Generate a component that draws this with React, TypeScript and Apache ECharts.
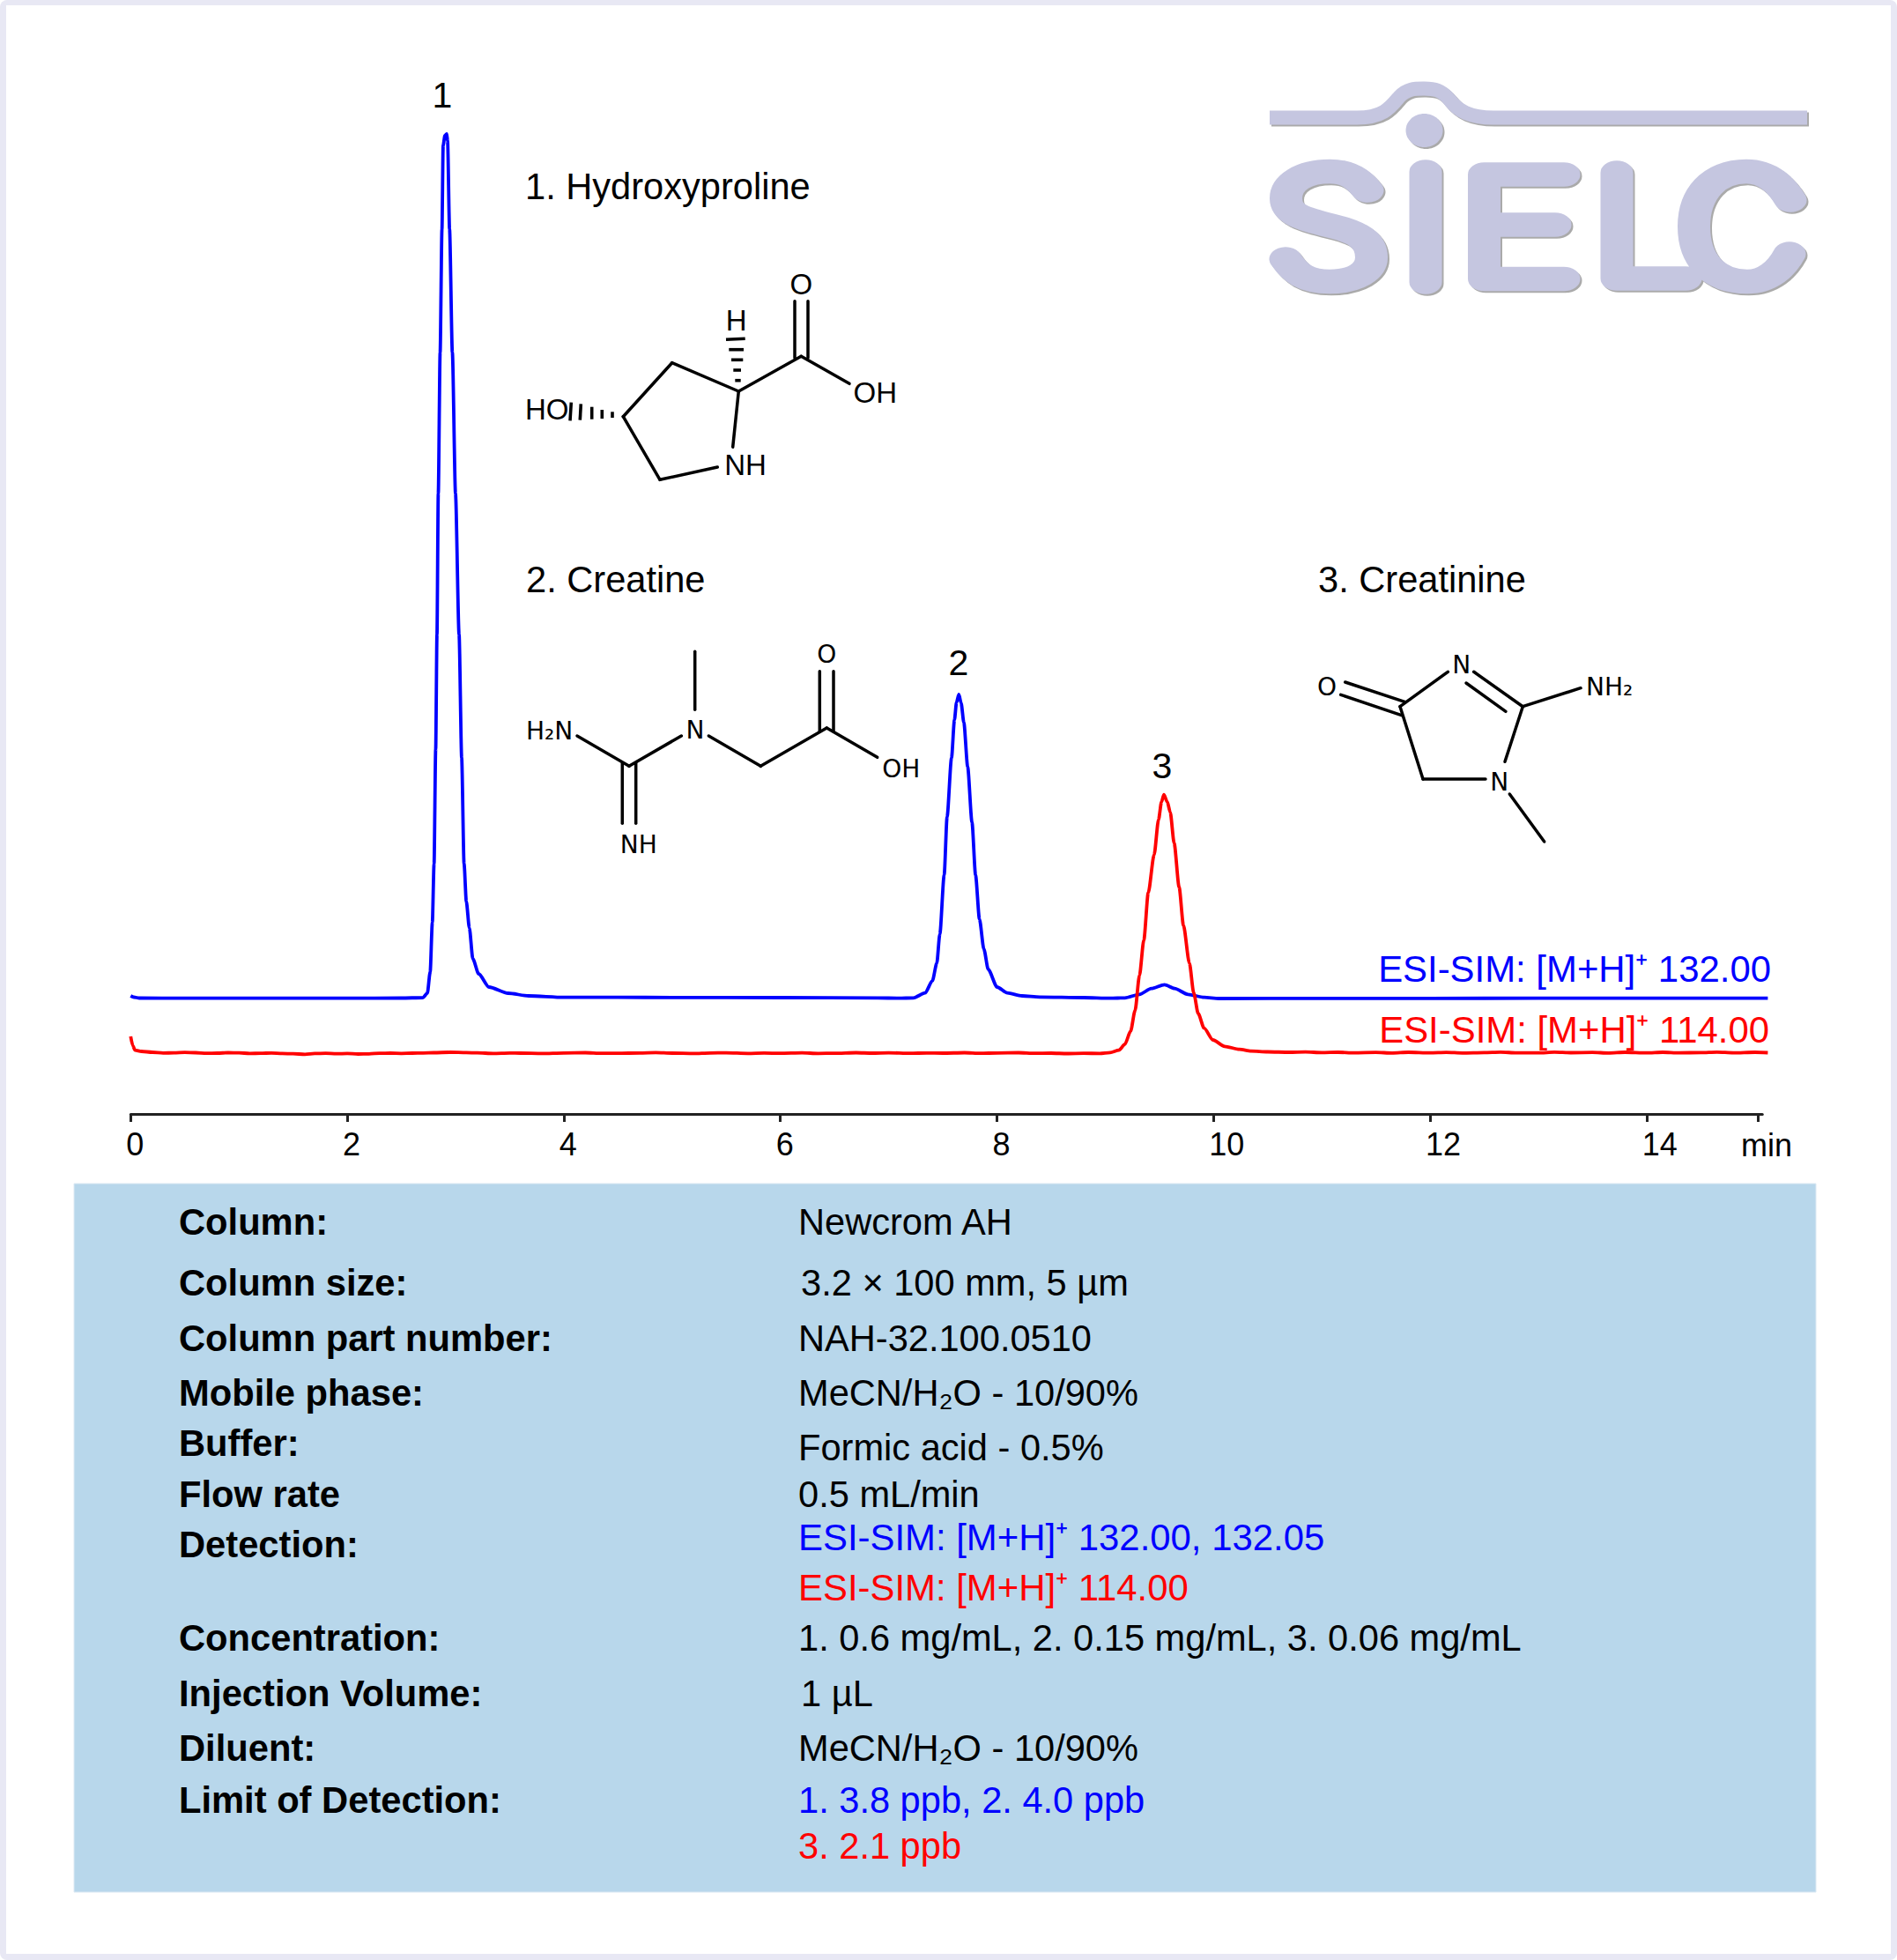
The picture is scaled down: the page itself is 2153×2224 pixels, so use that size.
import React, { useEffect, useRef } from "react";
import * as echarts from "echarts";

// ---------- data ----------
const xTickLabels = [0, 2, 4, 6, 8, 10, 12, 14];
const xTickMarks = [0, 2, 4, 6, 8, 10, 12, 14, 15.03];

const blueTime = [
  0, 0.03, 0.08, 0.5, 1, 1.5, 2, 2.5, 2.699, 2.74, 2.766, 2.786, 2.802, 2.817, 2.829, 2.841, 2.858, 2.875, 2.886,
  2.902, 2.919, 2.927, 2.945, 2.971, 3.0, 3.033, 3.057, 3.079, 3.1, 3.128, 3.16, 3.214, 3.309, 3.486, 3.675, 4.0,
  4.5, 5, 6, 6.9, 7.093, 7.229, 7.337, 7.404, 7.445, 7.473, 7.513, 7.54, 7.581, 7.608, 7.627, 7.649, 7.67, 7.695,
  7.73, 7.77, 7.803, 7.839, 7.88, 7.92, 8.002, 8.096, 8.232, 8.395, 8.8, 9.046, 9.182, 9.317, 9.426, 9.548, 9.642,
  9.764, 9.914, 10.049, 11, 12, 13, 14, 15.12,
];
const blueSignal = [
  134, 132.5, 131.5, 131.3, 131.3, 131.3, 131.4, 131.5, 132, 137, 161, 217, 284, 414, 544, 704, 864, 1004, 1099,
  1110, 1112, 1104, 1004, 864, 704, 544, 404, 284, 241, 211, 176, 159, 144, 137, 134, 132.3,
  132.3, 132.2, 132, 131.7, 131.3, 131.7, 137.3, 151, 171, 204, 271, 337, 404, 447, 467, 476, 466, 444,
  394, 331, 271, 221, 187, 164, 144, 137.3, 134, 132.7, 132, 131.3, 131.7, 135.7, 142.3, 146.7, 142.3,
  135.7, 132.3, 131, 131.2, 131.2, 131.3, 131.3, 131.3,
];

const redTime = [
  0, 0.02, 0.04, 0.1, 0.2, 0.3, 0.4, 0.5, 0.6, 0.7, 0.8, 0.9, 1.0, 1.1, 1.2, 1.3, 1.4, 1.5, 1.61, 1.7, 1.8, 1.9, 2.0,
  2.1, 2.2, 2.3, 2.4, 2.5, 2.6, 2.7, 2.8, 2.95, 3.1, 3.2, 3.35, 3.5, 3.6, 3.8, 4, 4.2, 4.35, 4.5, 4.7, 4.85,
  5, 5.2, 5.35, 5.5, 5.7, 5.85, 6, 6.2, 6.35, 6.5, 6.7, 6.85, 7, 7.2, 7.35, 7.5, 7.7, 7.85, 8, 8.2, 8.35, 8.5, 8.65,
  8.8, 8.95, 9.046, 9.127, 9.182, 9.235, 9.276, 9.317, 9.357, 9.398, 9.452, 9.493,
  9.52, 9.542, 9.574, 9.601, 9.637, 9.683, 9.723, 9.778, 9.818, 9.859, 9.914, 9.995, 10.103, 10.239, 10.348, 10.5, 10.7,
  10.85, 11, 11.15, 11.3, 11.5, 11.65, 11.8, 12, 12.15, 12.3, 12.5, 12.65, 12.8, 13, 13.15, 13.3, 13.5, 13.65, 13.8,
  14, 14.15, 14.3, 14.5, 14.65, 14.8, 15, 15.12,
];
const redSignal = [
  88, 77.3, 72.3, 71, 70, 69.2, 69.3, 69.8, 69.5, 68.9, 69, 69.5, 69.3, 68.7, 68.8, 69.2, 68.6, 68.3, 67.7, 68.6, 68.8, 68.3, 68.6,
  68, 68.2, 68.9, 69, 68.7, 69, 69.2, 69.5, 70, 69.6, 69.3, 68.7, 69.2, 69, 68.6, 69.2, 69.5, 68.8, 68.8, 69.2, 69.6,
  69, 68.6, 69.2, 69.4, 68.7, 69.1, 68.8, 69.3, 68.7, 68.9, 69.5, 69, 69.4, 68.8, 69.2, 69, 69.5, 68.8, 69.2, 69.5, 68.9, 69, 68.5,
  68.8, 68.7, 69.7, 72.3, 79, 94, 117.3, 157.3, 197.3, 251, 294, 334,
  354, 362.3, 354, 342.3, 307.3, 257.3, 214, 171, 137.3, 114, 97.3, 84, 76.7, 73.3, 71.3, 70.5, 70,
  70.4, 69.6, 70, 69.4, 69.8, 69.2, 70, 69.4, 69.9, 69.2, 69.7, 70.2, 69.3, 69.3, 70.1, 69.5, 69.8, 69.2, 70,
  69.4, 70, 69.4, 69.6, 70.2, 69.4, 70, 69.5,
];

const peakNames = ["1", "2", "3"];
const peakLabelTime = [2.878, 7.646, 9.526];
const peakLabelSignal = [1135, 491, 374];

const blueTrace = "ESI-SIM: [M+H]⁺ 132.00";
const redTrace = "ESI-SIM: [M+H]⁺ 114.00";
const compoundTitles = ["1. Hydroxyproline", "2. Creatine", "3. Creatinine"];

const panelLabels = [
  "Column:", "Column size:", "Column part number:", "Mobile phase:", "Buffer:", "Flow rate",
  "Detection:", "Concentration:", "Injection Volume:", "Diluent:", "Limit of Detection:",
];
const panelValues = [
  "Newcrom AH", "3.2 × 100 mm, 5 µm", "NAH-32.100.0510", "MeCN/H₂O - 10/90%", "Formic acid - 0.5%", "0.5 mL/min",
  "ESI-SIM: [M+H]⁺ 132.00, 132.05", "ESI-SIM: [M+H]⁺ 114.00", "1. 0.6 mg/mL, 2. 0.15 mg/mL, 3. 0.06 mg/mL", "1 µL",
  "MeCN/H₂O - 10/90%", "1. 3.8 ppb, 2. 4.0 ppb", "3. 2.1 ppb",
];
const panelValueColors = [
  "#000", "#000", "#000", "#000", "#000", "#000", "#0000ff", "#ff0000", "#000", "#000", "#000", "#0000ff", "#ff0000",
];

// ---------- layout ----------
const W = 2153;
const H = 2224;
const AXIS_Y = 1264;
const AXIS_LEFT = 148.3;
const PX_PER_MIN = 122.89;
const X_AXIS_MAX = 15.07;
const X_DATA_MAX = 15.12;
const Y_MAX = 1164;
const SANS = '"Liberation Sans", Arial, sans-serif';
const MOL = '"DejaVu Sans", sans-serif';
const BODY = 41.6;
const panelLabelY = [1386, 1455, 1518, 1580, 1637, 1695, 1752, 1858, 1921, 1983, 2042];
const panelValueY = [1386, 1455, 1518, 1580, 1642, 1695, 1744, 1801, 1858, 1921, 1983, 2042, 2094];
const panelValueX = [906, 909, 906, 906, 906, 906, 906, 906, 906, 909, 906, 906, 906];
const panelValueSize = [BODY, BODY, BODY, BODY, BODY, BODY, 41.9, 41.9, BODY, BODY, BODY, BODY, BODY];

// logo drawn with thick rounded strokes; the y coordinates are squeezed by LOGO_SY
const LOGO_SY = 0.74;
const squeeze = (d: string) => {
  let n = 0;
  return d.replace(/-?\d+(\.\d+)?/g, (m) => (n++ % 2 === 1 ? String(parseFloat(m) / LOGO_SY) : m));
};
const logoLetters = squeeze(
  "M1552 216 C1542 203 1530 194.5 1509 194.5 C1480 194.5 1459.5 207 1459.5 225 C1459.5 243 1478 248 1510 256 " +
    "C1540 263 1556.5 272 1556.5 292 C1556.5 308 1538 319.5 1509 319.5 C1482 319.5 1470 310 1459 294 " +
    "M1618 195 L1618 320 " +
    "M1775 198 L1684.5 198 L1684.5 316.5 L1775 316.5 M1684.5 255 L1765 255 " +
    "M1835 196 L1835 316 L1913 316 " +
    "M2032 227 C2022 210 2006 194.5 1982 194.5 C1945 194.5 1922.5 220 1922.5 257 C1922.5 295 1945 319.5 1983 319.5 C2006 319.5 2022 305 2031 288"
);
const logoWave =
  "M1441 133.5 L1540 133.5 C1570 133.5 1578 122 1588 110 C1597 100 1607 100.5 1616.5 100.5 " +
  "C1628 100.5 1636 102 1645 113 C1655 126 1668 133.5 1695 133.5 L2051 133.5";
echarts.graphic.registerShape("sielcLetters", echarts.graphic.extendPath(logoLetters, {}));
echarts.graphic.registerShape("sielcWave", echarts.graphic.extendPath(logoWave, {}));

const bondLines: number[][] = [
  // hydroxyproline
  [707.3, 472.7, 762.7, 411.7], [762.7, 411.7, 838.3, 444], [838.3, 444, 831.7, 507.3], [707.3, 472.7, 749, 544.3],
  [749, 544.3, 814.3, 530], [838.3, 444, 909.3, 404.3], [909.3, 404.3, 964, 435.3], [902, 341.7, 902, 406], [917, 341.7, 917, 406],
  // creatine
  [788.7, 739.3, 788.7, 805.3], [655, 835, 714, 869.3], [714, 869.3, 773.3, 835], [804.3, 835, 863.3, 869.3],
  [863.3, 869.3, 938.3, 826], [938.3, 826, 995.7, 859.3], [930.3, 761.7, 930.3, 830], [946, 761.7, 946, 830],
  [706.3, 866, 706.3, 934.3], [721.7, 866, 721.7, 934.3],
  // creatinine
  [1526.7, 774, 1595, 796.7], [1521.7, 788.3, 1590.7, 811.7], [1589, 801.7, 1643.3, 762.3], [1672.7, 762.3, 1728.3, 801.7],
  [1664, 775, 1709, 807.3], [1728.3, 801.7, 1794, 780.7], [1728.3, 801.7, 1708, 864.3], [1589, 801.7, 1615, 884],
  [1615, 884, 1686, 884], [1713.3, 901, 1752.7, 955],
];
const hashLines: number[][] = [
  [824, 385.3, 845.7, 384.3], [827.3, 396.7, 844, 396.7], [830, 408.3, 843.3, 408.3], [832.3, 420, 841, 420], [834.3, 431.7, 840.7, 431.7],
  [648.3, 456.7, 647, 477.3], [659.3, 458.3, 658.3, 476.7], [671.7, 461.7, 671.7, 475.7], [683.3, 465, 683.3, 475], [695, 467.3, 695, 474],
];
const atomLabels: [string, number, number, number, string, string][] = [
  ["O", 909.3, 322.7, 33, SANS, "center"], ["H", 835.7, 363.3, 33, SANS, "center"], ["OH", 993.3, 445.7, 33, SANS, "center"],
  ["NH", 846, 527.3, 33, SANS, "center"], ["HO", 620.7, 464.3, 33, SANS, "center"],
  ["N", 789, 828.3, 28, MOL, "center"], ["H₂N", 597, 829, 28, MOL, "left"], ["O", 938.3, 742.7, 28, MOL, "center"],
  ["OH", 1022.7, 872.3, 28, MOL, "center"], ["NH", 724.7, 958.3, 28, MOL, "center"],
  ["O", 1506, 779, 28, MOL, "center"], ["N", 1658.7, 754.3, 28, MOL, "center"], ["N", 1701.7, 887.3, 28, MOL, "center"],
  ["NH₂", 1800, 779, 28, MOL, "left"],
];

const zip = (a: number[], b: number[]) => a.map((v, i) => [v, b[i]]);

const text = (t: string, x: number, y: number, fontSize: number, extra: Record<string, unknown> = {}) => ({
  type: "text",
  x,
  y,
  silent: true,
  style: { text: t, fontSize, fontFamily: SANS, fill: "#000", align: "left", verticalAlign: "middle", ...extra },
});

function buildGraphic() {
  const els: any[] = [
    { type: "rect", shape: { x: 0, y: 0, width: W, height: H, r: 8 }, style: { fill: "#E8E8F4" } },
    { type: "rect", shape: { x: 7, y: 6, width: W - 14, height: H - 13 }, style: { fill: "#fff" } },
    { type: "rect", shape: { x: 84, y: 1343, width: 1977, height: 804 }, style: { fill: "#B8D7EB", stroke: "#DCE9F3", lineWidth: 1 } },
    {
      type: "sielcWave",
      style: { fill: "none", stroke: "#C5C6E0", lineWidth: 16, shadowColor: "#aaa", shadowOffsetX: 2, shadowOffsetY: 2, shadowBlur: 1 },
    },
    {
      type: "ellipse",
      shape: { cx: 1616.5, cy: 148, rx: 21, ry: 19 },
      style: { fill: "#C5C6E0", shadowColor: "#aaa", shadowOffsetX: 2, shadowOffsetY: 2, shadowBlur: 1 },
    },
    {
      type: "sielcLetters",
      x: 0,
      y: 0,
      scaleX: 1,
      scaleY: LOGO_SY,
      style: {
        fill: "none", stroke: "#C5C6E0", lineWidth: 37, lineCap: "round", lineJoin: "round",
        shadowColor: "#aaa", shadowOffsetX: 2, shadowOffsetY: 2, shadowBlur: 1,
      },
    },
  ];
  bondLines.forEach(([x1, y1, x2, y2]) =>
    els.push({ type: "line", shape: { x1, y1, x2, y2 }, style: { stroke: "#000", lineWidth: 3.5, lineCap: "round" } })
  );
  hashLines.forEach(([x1, y1, x2, y2]) =>
    els.push({ type: "line", shape: { x1, y1, x2, y2 }, style: { stroke: "#000", lineWidth: 3.6 } })
  );
  atomLabels.forEach(([t, x, y, size, family, align]) => els.push(text(t, x, y, size, { fontFamily: family, align })));
  els.push(text(compoundTitles[0], 596, 211, BODY));
  els.push(text(compoundTitles[1], 597, 657, BODY));
  els.push(text(compoundTitles[2], 1496, 657, BODY));
  els.push(text(blueTrace, 2010, 1099, 41.9, { fill: "#0000ff", align: "right" }));
  els.push(text(redTrace, 2008, 1168, 41.9, { fill: "#ff0000", align: "right" }));
  els.push(text("min", 2005, 1299, 36, { align: "center" }));
  panelLabels.forEach((t, i) => els.push(text(t, 203, panelLabelY[i], 41.7, { fontWeight: "bold" })));
  panelValues.forEach((t, i) => els.push(text(t, panelValueX[i], panelValueY[i], panelValueSize[i], { fill: panelValueColors[i] })));
  return els;
}

export default function App() {
  const ref = useRef<HTMLDivElement>(null);
  useEffect(() => {
    document.body.style.margin = "0";
    document.body.style.overflow = "hidden";
    const chart = echarts.init(ref.current!, undefined, { renderer: "svg" });
    const gridBase = { top: AXIS_Y - Y_MAX, height: Y_MAX };
    const axisWidth = X_AXIS_MAX * PX_PER_MIN;
    const traceLine = { smooth: 0.25, smoothMonotone: "x", showSymbol: false, clip: false, type: "line" };
    chart.setOption({
      animation: false,
      backgroundColor: "#fff",
      graphic: buildGraphic(),
      grid: [
        { ...gridBase, left: AXIS_LEFT, width: X_DATA_MAX * PX_PER_MIN },
        { ...gridBase, left: AXIS_LEFT - 5, width: axisWidth },
        { ...gridBase, left: AXIS_LEFT, width: axisWidth },
      ],
      xAxis: [
        { type: "value", gridIndex: 0, min: 0, max: X_DATA_MAX, show: false },
        {
          type: "value",
          gridIndex: 1,
          min: 0,
          max: X_AXIS_MAX,
          splitLine: { show: false },
          axisLine: { show: false },
          axisTick: { show: false },
          axisLabel: {
            show: true,
            customValues: xTickLabels,
            align: "left",
            margin: 16,
            color: "#000",
            fontSize: 36,
            fontFamily: SANS,
            formatter: (v: number) => String(v),
          },
        },
        {
          type: "value",
          gridIndex: 2,
          min: 0,
          max: X_AXIS_MAX,
          splitLine: { show: false },
          axisLine: { show: true, lineStyle: { color: "#222", width: 3 } },
          axisTick: { show: true, length: 9, customValues: xTickMarks, lineStyle: { color: "#222", width: 3 } },
          axisLabel: { show: false },
        },
      ],
      yAxis: [
        { type: "value", gridIndex: 0, min: 0, max: Y_MAX, show: false },
        { type: "value", gridIndex: 1, min: 0, max: Y_MAX, show: false },
        { type: "value", gridIndex: 2, min: 0, max: Y_MAX, show: false },
      ],
      series: [
        {
          ...traceLine,
          name: "ESI-SIM: [M+H]+ 132.00",
          xAxisIndex: 0,
          yAxisIndex: 0,
          data: zip(blueTime, blueSignal),
          lineStyle: { color: "#0000ff", width: 3.8, join: "round" },
          z: 3,
        },
        {
          ...traceLine,
          name: "ESI-SIM: [M+H]+ 114.00",
          xAxisIndex: 0,
          yAxisIndex: 0,
          data: zip(redTime, redSignal),
          lineStyle: { color: "#ff0000", width: 3.8, join: "round" },
          z: 4,
        },
        {
          name: "Peaks",
          type: "scatter",
          xAxisIndex: 0,
          yAxisIndex: 0,
          data: peakNames.map((n, i) => ({ name: n, value: [peakLabelTime[i], peakLabelSignal[i]] })),
          symbolSize: 1,
          itemStyle: { color: "transparent" },
          label: {
            show: true,
            position: "top",
            distance: 0,
            formatter: "{b}",
            color: "#000",
            opacity: 1,
            textBorderWidth: 0,
            fontSize: 41,
            fontFamily: SANS,
          },
          z: 5,
        },
      ],
    });
    return () => chart.dispose();
  }, []);
  return <div ref={ref} style={{ width: W, height: H, display: "block" }} />;
}
